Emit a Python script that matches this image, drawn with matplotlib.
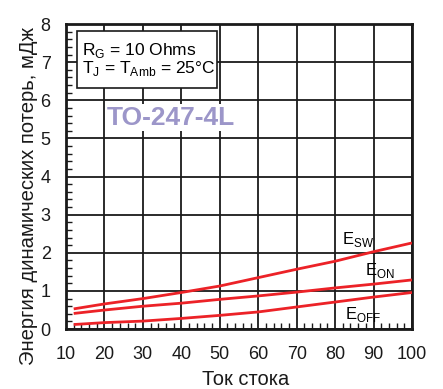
import numpy as np
import matplotlib.pyplot as plt
from matplotlib.ticker import MultipleLocator
from matplotlib.patches import Rectangle

plt.rcParams['font.family'] = ['Liberation Sans', 'DejaVu Sans']

# ток стока, А
current = [12, 20, 30, 40, 50, 60, 70, 80, 90, 100]
# энергии, мДж
e_sw = [0.53, 0.66, 0.80, 0.96, 1.13, 1.35, 1.57, 1.78, 2.03, 2.26]
e_on = [0.41, 0.50, 0.60, 0.68, 0.78, 0.87, 0.97, 1.08, 1.18, 1.29]
e_off = [0.12, 0.17, 0.21, 0.28, 0.36, 0.45, 0.58, 0.71, 0.84, 0.96]

x_ticks = [10, 20, 30, 40, 50, 60, 70, 80, 90, 100]
y_ticks = [0, 1, 2, 3, 4, 5, 6, 7, 8]

red = '#ec2227'
ink = '#1a1a1a'

fig = plt.figure(figsize=(4.43, 3.89), dpi=100)
ax = fig.add_axes([0.149, 0.154, 0.781, 0.784])

for ys in (e_sw, e_on, e_off):
    ax.plot(current, ys, color=red, lw=2.0, solid_capstyle='butt', zorder=3)

ax.set_xlim(10, 100)
ax.set_ylim(0, 8)
ax.set_xticks(x_ticks)
ax.set_yticks(y_ticks)
ax.xaxis.set_minor_locator(MultipleLocator(2))
ax.yaxis.set_minor_locator(MultipleLocator(0.2))
ax.grid(True, which='major', color=ink, lw=1.3)
ax.set_axisbelow(True)
ax.tick_params(which='both', direction='in', top=False, right=False, labelsize=13, colors=ink)
ax.tick_params(axis='x', which='major', length=0, pad=12)
ax.tick_params(axis='y', which='major', length=0, pad=11)
ax.tick_params(which='minor', length=4, width=1)
for s in ax.spines.values():
    s.set_linewidth(2)
    s.set_color(ink)

ax.set_xlabel('Ток стока', fontsize=14.5, color=ink)
ax.xaxis.set_label_coords(0.52, -0.135)
ax.set_ylabel('Энергия динамических потерь, мДж', fontsize=14.6, color=ink)
ax.yaxis.set_label_coords(-0.08, 0.436)

# подписи кривых
ax.text(81.8, 2.34, r'E$_{\mathregular{SW}}$', fontsize=12, va='center')
ax.text(87.8, 1.55, r'E$_{\mathregular{ON}}$', fontsize=12, va='center')
ax.text(82.6, 0.37, r'E$_{\mathregular{OFF}}$', fontsize=12, va='center')

# рамка с условиями
ax.add_patch(Rectangle((0.031, 0.790), 0.405, 0.187, transform=ax.transAxes,
                       fc='white', ec=ink, lw=1.2, zorder=4))
ax.text(0.0456, 0.898, 'R$_{\\mathregular{G}}$ = 10 Ohms', transform=ax.transAxes,
        fontsize=12.5, va='baseline', ha='left', zorder=5)
ax.text(0.0456, 0.839, 'T$_{\\mathregular{J}}$ = T$_{\\mathregular{Amb}}$ = 25°C', transform=ax.transAxes,
        fontsize=12.5, va='baseline', ha='left', zorder=5)

ax.text(37.2, 5.55, 'TO-247-4L', fontsize=19, fontweight='bold', color='#9c96c9',
        ha='center', va='center', zorder=5,
        bbox=dict(boxstyle='square,pad=0.05', fc='white', ec='none'))

fig.savefig('out.png', dpi=100)
